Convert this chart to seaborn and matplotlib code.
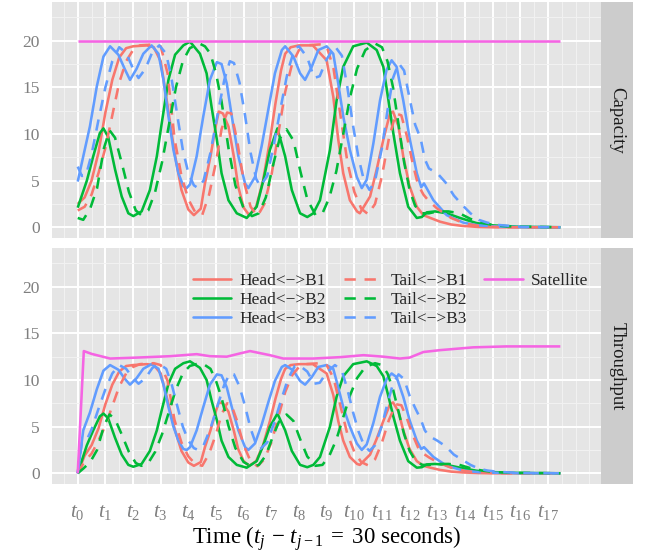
import numpy as np
import pandas as pd
import matplotlib
matplotlib.use("Agg")
import matplotlib.pyplot as plt
import seaborn as sns
from matplotlib.lines import Line2D

sns.set_theme(style="white")
plt.rcParams['font.family'] = ['Liberation Serif', 'DejaVu Serif']
plt.rcParams['mathtext.fontset'] = 'custom'
plt.rcParams['mathtext.rm'] = 'Liberation Serif'
plt.rcParams['mathtext.it'] = 'Liberation Serif:italic'
plt.rcParams['mathtext.bf'] = 'Liberation Serif:bold'

# ---------------- data (x in units of t_j, 30 s each) ----------------
series_names = ["Head<\u2212>B1", "Head<\u2212>B2", "Head<\u2212>B3",
                "Tail<\u2212>B1", "Tail<\u2212>B2", "Tail<\u2212>B3", "Satellite"]
panels = ["Capacity", "Throughput"]
tick_labels = [f"$t_{{{i}}}$" for i in range(18)]
y_ticks = [0, 5, 10, 15, 20]

hb1_t = [0, .25, .5, .75, 1, 1.25, 1.5, 1.75, 2, 2.5, 2.75, 3, 3.25, 3.5, 3.75, 4, 4.2, 4.45, 4.6, 4.8,
         5, 5.1, 5.25, 5.45, 5.65, 5.8, 6, 6.2, 6.45, 6.7, 6.95, 7.15, 7.35, 7.5, 7.7, 8, 8.5, 9.0, 9.24, 9.42,
         9.6, 9.84, 10.1, 10.2, 10.57, 10.81, 11.05, 11.29, 11.4, 11.6, 11.77, 12.0, 12.26, 12.5, 12.75,
         13.1, 13.5, 13.9, 14.5, 15.0, 17.45]
hb1_cap = [2.5, 3.2, 5.0, 8.0, 12.3, 15.8, 18.2, 19.2, 19.4, 19.5, 19.3, 17.8, 13.0, 8.0, 4.0, 1.9, 1.3, 2.0, 4.7, 7.6,
           11.0, 12.4, 12.2, 10.8, 7.5, 4.4, 2.1, 1.3, 2.2, 5.0, 9.3, 13.3, 16.8, 18.6, 19.3, 19.5, 19.5, 17.9, 14.0, 9.4,
           5.8, 2.9, 1.7, 1.5, 3.3, 6.2, 9.4, 12.2, 12.4, 10.8, 7.6, 4.4, 2.2, 1.3, 1.0,
           0.6, 0.3, 0.15, 0.03, 0.0, 0.0]
hb1_thr = [0, 1.9, 3.0, 4.8, 7.4, 9.5, 10.9, 11.5, 11.6, 11.7, 11.6, 10.7, 7.8, 4.8, 2.4, 1.15, 0.8, 1.2, 2.8, 4.6,
           6.7, 7.6, 7.5, 6.6, 4.5, 2.6, 1.3, 0.8, 1.3, 3.0, 5.6, 8.0, 10.1, 11.2, 11.6, 11.7, 11.7, 10.7, 8.4, 5.6,
           3.5, 1.75, 1.0, 0.9, 2.0, 3.7, 5.6, 7.4, 7.6, 6.6, 4.6, 2.6, 1.3, 0.8, 0.6,
           0.36, 0.18, 0.09, 0.02, 0.0, 0.0]

tb1_t = [0, .25, .5, .75, 1.0, 1.25, 1.5, 1.75, 2.0, 2.25, 2.75, 3.0, 3.25, 3.5, 3.75, 4.0, 4.25, 4.5, 4.75, 5.0,
         5.2, 5.4, 5.55, 5.75, 6.0, 6.25, 6.5, 6.75, 7.0, 7.25, 7.5, 7.75, 8.0, 8.25, 8.75, 9.0, 9.25, 9.5, 9.75, 10.0,
         10.25, 10.5, 10.75, 11.0, 11.25, 11.5, 11.7, 11.9, 12.1, 12.3, 12.5, 12.7, 13.0, 13.5, 14.0,
         14.5, 15.0, 15.5, 17.45]
tb1_cap = [1.8, 2.2, 3.5, 5.8, 8.5, 12.0, 15.5, 17.8, 19.0, 19.5, 19.6, 19.4, 16.5, 9.5, 5.5, 3.0, 1.6, 1.3, 3.5, 7.0,
           10.5, 12.3, 12.2, 9.5, 5.0, 2.2, 1.2, 2.5, 5.5, 10.0, 14.5, 17.5, 19.0, 19.5, 19.6, 19.4, 17.0, 12.0, 7.0, 3.8,
           2.0, 1.4, 2.5, 5.5, 9.5, 12.2, 12.0, 9.8, 7.0, 4.6, 3.5, 2.8, 2.0, 1.0, 0.4,
           0.15, 0.05, 0.0, 0.0]
tb1_thr = [0, 1.3, 2.1, 3.5, 5.1, 7.2, 9.3, 10.7, 11.4, 11.7, 11.8, 11.6, 9.9, 5.7, 3.3, 1.8, 1.0, 0.8, 2.1, 4.2,
           6.3, 7.5, 7.4, 5.7, 3.0, 1.3, 0.75, 1.5, 3.3, 6.0, 8.7, 10.5, 11.4, 11.7, 11.8, 11.6, 10.2, 7.2, 4.2, 2.3,
           1.2, 0.85, 1.5, 3.3, 5.7, 7.4, 7.3, 5.9, 4.2, 2.8, 2.1, 1.7, 1.2, 0.6, 0.24,
           0.09, 0.03, 0.0, 0.0]

hb2_t = [0, 0.33, 0.56, 0.8, 0.93, 1.1, 1.35, 1.59, 1.83, 2.01, 2.31, 2.61, 2.86, 3.04, 3.28, 3.52, 3.82, 4.06, 4.42, 4.66,
         4.84, 5.03, 5.2, 5.45, 5.75, 6.11, 6.47, 6.71, 6.95, 7.22, 7.5, 7.74, 8.04, 8.3, 8.52, 8.76, 9.12, 9.36, 9.6, 9.96,
         10.45, 10.81, 11.05, 11.23, 11.41, 11.65, 11.95, 12.26, 12.44, 12.62, 12.92, 13.34, 13.82, 14.42, 15.03,
         16.0, 17.45]
hb2_cap = [2.1, 5.0, 7.6, 10.1, 10.6, 9.7, 6.2, 3.3, 1.5, 1.2, 1.7, 4.0, 7.6, 11.2, 15.8, 18.5, 19.5, 19.9, 18.6, 16.5,
           12.9, 9.4, 5.8, 2.9, 1.5, 1.0, 2.2, 5.0, 8.3, 10.6, 7.6, 4.0, 1.5, 1.1, 1.5, 2.9, 8.3, 13.6, 17.2, 19.4,
           19.8, 19.0, 17.2, 13.7, 10.1, 5.8, 2.2, 1.0, 1.1, 1.6, 1.7, 1.5, 1.0, 0.45, 0.2,
           0.05, 0.0]
hb2_thr = [0, 3.0, 4.6, 6.1, 6.4, 5.9, 3.8, 2.0, 0.9, 0.7, 1.0, 2.4, 4.6, 6.8, 9.6, 11.2, 11.8, 12.0, 11.3, 10.0,
           7.8, 5.7, 3.5, 1.75, 0.9, 0.6, 1.3, 3.0, 5.0, 6.4, 4.6, 2.4, 0.9, 0.65, 0.9, 1.75, 5.0, 8.2, 10.4, 11.7,
           12.0, 11.5, 10.4, 8.3, 6.1, 3.5, 1.3, 0.6, 0.65, 0.95, 1.0, 0.9, 0.6, 0.27, 0.12,
           0.03, 0.0]

tb2_t = [0, .2, .45, .7, .95, 1.15, 1.35, 1.6, 1.85, 2.1, 2.3, 2.55, 2.8, 3.05, 3.3, 3.55, 3.8, 4.05, 4.4, 4.6,
         4.8, 5.0, 5.2, 5.45, 5.7, 6.0, 6.3, 6.55, 6.8, 7.05, 7.3, 7.55, 7.8, 8.05, 8.3, 8.6, 8.85, 9.1, 9.35, 9.6,
         9.85, 10.1, 10.4, 10.75, 11.0, 11.2, 11.4, 11.6, 11.8, 12.0, 12.2, 12.45, 12.7, 13.0, 13.4,
         13.8, 14.2, 14.6, 15.0, 15.5, 17.45]
tb2_cap = [1.0, 0.8, 2.0, 4.2, 8.5, 10.4, 9.6, 6.8, 3.8, 1.8, 1.3, 1.8, 3.8, 7.0, 11.0, 15.0, 17.8, 19.2, 19.7, 19.4,
           18.6, 16.5, 13.5, 8.5, 4.5, 2.0, 1.2, 1.5, 3.2, 6.5, 9.5, 10.5, 9.3, 6.0, 3.0, 1.3, 1.5, 3.2, 6.0, 10.0,
           14.0, 17.0, 19.0, 19.7, 19.3, 17.8, 15.0, 11.0, 7.0, 4.0, 2.3, 1.5, 1.5, 1.7, 1.7,
           1.5, 0.9, 0.5, 0.25, 0.1, 0.0]
tb2_thr = [0, 0.5, 1.2, 2.5, 5.1, 6.3, 5.8, 4.1, 2.3, 1.1, 0.8, 1.1, 2.3, 4.2, 6.6, 9.0, 10.7, 11.5, 11.8, 11.6,
           11.2, 9.9, 8.1, 5.1, 2.7, 1.2, 0.7, 0.9, 1.9, 3.9, 5.7, 6.3, 5.6, 3.6, 1.8, 0.8, 0.9, 1.9, 3.6, 6.0,
           8.4, 10.2, 11.4, 11.8, 11.6, 10.7, 9.0, 6.6, 4.2, 2.4, 1.4, 0.9, 0.9, 1.0, 1.0,
           0.9, 0.55, 0.3, 0.15, 0.06, 0.0]

hb3_t = [0, 0.2, 0.44, 0.69, 0.93, 1.17, 1.47, 1.71, 1.89, 2.13, 2.37, 2.67, 2.92, 3.1, 3.28, 3.46, 3.64, 3.82, 3.94, 4.06,
         4.3, 4.54, 4.78, 5.03, 5.2, 5.39, 5.57, 5.81, 6.05, 6.17, 6.41, 6.65, 6.89, 7.13, 7.38, 7.5, 7.8, 8.04, 8.22, 8.46,
         8.7, 9.0, 9.24, 9.42, 9.6, 9.84, 10.09, 10.27, 10.45, 10.69, 10.93, 11.17, 11.35, 11.53, 11.77,
         12.01, 12.26, 12.42, 12.52, 12.86, 13.34, 13.94, 14.5, 15.2, 16.0, 17.45]
hb3_cap = [4.9, 7.6, 10.8, 15.1, 18.3, 19.4, 18.5, 16.9, 15.8, 17.0, 18.6, 19.5, 18.6, 15.8, 11.9, 8.3, 5.8, 4.4, 4.2, 4.6,
           7.6, 11.9, 15.8, 17.7, 17.5, 15.4, 11.9, 7.6, 4.7, 4.2, 5.4, 8.7, 12.6, 16.5, 19.0, 19.4, 18.3, 16.5, 15.8, 17.2,
           19.0, 19.4, 18.6, 15.4, 11.9, 8.3, 5.4, 4.2, 5.1, 9.0, 13.6, 16.9, 17.9, 17.2, 13.6,
           9.4, 5.8, 4.3, 4.7, 2.9, 1.3, 0.5, 0.2, 0.08, 0.02, 0.0]
hb3_thr = [0, 4.6, 6.5, 9.0, 11.0, 11.6, 11.1, 10.1, 9.5, 10.2, 11.2, 11.7, 11.2, 9.5, 7.1, 5.0, 3.5, 2.6, 2.5, 2.8,
           4.6, 7.1, 9.5, 10.6, 10.5, 9.2, 7.1, 4.6, 2.8, 2.5, 3.2, 5.2, 7.6, 9.9, 11.4, 11.6, 11.0, 9.9, 9.5, 10.3,
           11.4, 11.6, 11.2, 9.2, 7.1, 5.0, 3.2, 2.5, 3.1, 5.4, 8.2, 10.1, 10.7, 10.3, 8.2,
           5.6, 3.5, 2.6, 2.8, 1.75, 0.8, 0.3, 0.12, 0.05, 0.01, 0.0]

tb3_t = [0, .15, .3, .5, .75, 1.0, 1.25, 1.5, 1.75, 2.0, 2.2, 2.45, 2.7, 2.95, 3.2, 3.4, 3.6, 3.8, 4.0, 4.2,
         4.35, 4.55, 4.8, 5.05, 5.3, 5.5, 5.65, 5.85, 6.05, 6.25, 6.45, 6.6, 6.85, 7.1, 7.35, 7.6, 7.85, 8.0, 8.3, 8.55,
         8.75, 9.0, 9.3, 9.55, 9.75, 9.95, 10.15, 10.35, 10.55, 10.75, 11.0, 11.2, 11.4, 11.6, 11.8,
         12.0, 12.2, 12.4, 12.55, 12.7, 13.0, 13.3, 13.6, 13.9, 14.2, 14.5, 14.8, 15.2, 16.0, 17.45]
tb3_cap = [6.5, 5.5, 5.6, 7.8, 11.5, 15.0, 17.8, 19.3, 18.7, 17.0, 16.0, 17.0, 18.8, 19.5, 18.6, 15.8, 12.0, 8.3, 5.8, 4.5,
           4.2, 5.0, 8.0, 12.0, 15.8, 17.8, 17.6, 15.5, 12.0, 8.0, 5.2, 4.4, 5.5, 9.0, 13.0, 16.8, 19.2, 19.4, 18.2, 16.0,
           16.2, 18.0, 19.4, 18.4, 15.0, 11.0, 7.5, 5.0, 4.0, 5.0, 8.5, 12.5, 16.0, 17.6, 16.8,
           13.8, 11.0, 9.5, 7.3, 6.3, 5.8, 4.8, 3.4, 2.4, 1.5, 0.8, 0.5, 0.25, 0.05, 0.0]
tb3_thr = [0, 3.3, 3.4, 4.7, 6.9, 9.0, 10.7, 11.6, 11.2, 10.2, 9.6, 10.2, 11.3, 11.7, 11.2, 9.5, 7.2, 5.0, 3.5, 2.7,
           2.5, 3.0, 4.8, 7.2, 9.5, 10.7, 10.6, 9.3, 7.2, 4.8, 3.1, 2.6, 3.3, 5.4, 7.8, 10.1, 11.5, 11.6, 10.9, 9.6,
           9.7, 10.8, 11.6, 11.0, 9.0, 6.6, 4.5, 3.0, 2.4, 3.0, 5.1, 7.5, 9.6, 10.6, 10.1,
           8.3, 7.0, 5.8, 4.6, 4.0, 3.5, 2.9, 2.0, 1.45, 0.9, 0.5, 0.3, 0.15, 0.03, 0.0]

sat_cap_t = [0, 17.45]
sat_cap = [20, 20]
sat_thr_t = [0, 0.22, 0.5, 1.17, 2.13, 3.34, 4.3, 4.78, 5.39, 5.87, 6.23, 6.95, 7.43, 8.52, 9.5, 10.33, 11.05,
             11.65, 12.0, 12.5, 13.1, 14.3, 15.5, 17.45]
sat_thr = [0, 13.1, 12.8, 12.3, 12.4, 12.55, 12.77, 12.55, 12.5, 12.85, 13.1, 12.66, 12.3, 12.3, 12.45, 12.66, 12.5,
           12.3, 12.4, 13.0, 13.2, 13.5, 13.6, 13.6]

# ---------------- long table ----------------
src = {
    ("Capacity", series_names[0]): (hb1_t, hb1_cap), ("Throughput", series_names[0]): (hb1_t, hb1_thr),
    ("Capacity", series_names[1]): (hb2_t, hb2_cap), ("Throughput", series_names[1]): (hb2_t, hb2_thr),
    ("Capacity", series_names[2]): (hb3_t, hb3_cap), ("Throughput", series_names[2]): (hb3_t, hb3_thr),
    ("Capacity", series_names[3]): (tb1_t, tb1_cap), ("Throughput", series_names[3]): (tb1_t, tb1_thr),
    ("Capacity", series_names[4]): (tb2_t, tb2_cap), ("Throughput", series_names[4]): (tb2_t, tb2_thr),
    ("Capacity", series_names[5]): (tb3_t, tb3_cap), ("Throughput", series_names[5]): (tb3_t, tb3_thr),
    ("Capacity", series_names[6]): (sat_cap_t, sat_cap), ("Throughput", series_names[6]): (sat_thr_t, sat_thr),
}
rows = []
for (panel, name), (tt, vv) in src.items():
    for a, b in zip(tt, vv):
        rows.append((panel, name, a, b))
df = pd.DataFrame(rows, columns=["panel", "series", "t", "value"])

palette = {series_names[0]: "#F8766D", series_names[3]: "#F8766D",
           series_names[1]: "#00BA38", series_names[4]: "#00BA38",
           series_names[2]: "#619CFF", series_names[5]: "#619CFF",
           series_names[6]: "#F564E3"}
dash = (4.4, 3.4)
dashes = {series_names[0]: "", series_names[1]: "", series_names[2]: "",
          series_names[3]: dash, series_names[4]: dash, series_names[5]: dash,
          series_names[6]: ""}
LW = 1.85

# ---------------- figure ----------------
W, H = 649, 555
fig = plt.figure(figsize=(W / 100, H / 100), dpi=100)
fig.patch.set_facecolor("white")

px_left, px_right = 52, 601
panel_px = [(2, 238), (248, 484)]
strip_w = 32

axes = []
for (top, bot), panel in zip(panel_px, panels):
    ax = fig.add_axes([px_left / W, 1 - bot / H, (px_right - px_left) / W, (bot - top) / H])
    ax.set_facecolor("#E5E5E5")
    sub = df[df.panel == panel]
    sns.lineplot(data=sub, x="t", y="value", hue="series", style="series",
                 hue_order=series_names, style_order=series_names,
                 palette=palette, dashes=dashes, linewidth=LW, ax=ax,
                 legend=False, sort=False, estimator=None)
    for ln in ax.get_lines():
        ln.set_solid_capstyle("butt")
        ln.set_dash_capstyle("butt")
        ln.set_solid_joinstyle("round")
    ax.set_xlim(-0.93, 18.92)
    ax.set_ylim(-1.15, 24.15)
    ax.set_xticks(range(18))
    ax.set_xticks([-0.5 + i for i in range(18)] + [17.5, 18.0, 18.5], minor=True)
    ax.set_yticks(y_ticks)
    ax.set_yticks([2.5, 7.5, 12.5, 17.5, 22.5], minor=True)
    ax.set_yticklabels([str(v) for v in y_ticks])
    ax.grid(which="major", color="white", linewidth=1.4)
    ax.grid(which="minor", color="#F2F2F2", linewidth=0.7)
    ax.set_axisbelow(True)
    for s in ax.spines.values():
        s.set_visible(False)
    ax.tick_params(which="major", length=6.5, width=1.5, color="#7F7F7F",
                   labelcolor="#7F7F7F", labelsize=12.5, pad=2.5)
    ax.tick_params(which="minor", length=0)
    ax.set_xlabel("")
    ax.set_ylabel("")
    # strip
    sax = fig.add_axes([px_right / W, 1 - bot / H, strip_w / W, (bot - top) / H])
    sax.set_facecolor("#CCCCCC")
    sax.set_xticks([]); sax.set_yticks([])
    for s in sax.spines.values():
        s.set_visible(False)
    sax.text(0.5, 0.5, panel, rotation=-90, ha="center", va="center",
             fontsize=13.5, color="#1A1A1A", transform=sax.transAxes)
    axes.append(ax)

axes[0].tick_params(axis="x", which="major", length=0, labelbottom=False)
axes[1].set_xticklabels(tick_labels, fontsize=15)
axes[1].tick_params(axis="x", which="major", pad=7)

fig.text((px_left + px_right) / 2 / W, 1 - 539 / H,
         r"Time ($t_j\,-\,t_{j-1}\;=\;30$ seconds)", ha="center", va="center",
         fontsize=16.5, color="black")

# legend (column-major, padded so the third column holds only Satellite)
handles = [Line2D([0], [0], color=palette[n], lw=LW,
                  linestyle="-" if dashes[n] == "" else (0, dash)) for n in series_names]
blank = Line2D([0], [0], color="none", lw=0)
leg_handles = handles + [blank, blank]
leg_labels = series_names + ["", ""]
leg = axes[1].legend(leg_handles, leg_labels, ncol=3, loc="upper left",
                     bbox_to_anchor=((193 - px_left) / (px_right - px_left), (484 - 273) / 236),
                     frameon=False, fontsize=12.5, handlelength=2.2, handletextpad=0.5,
                     columnspacing=1.0, labelspacing=0.15, borderpad=0, borderaxespad=0)

fig.savefig("out.png", dpi=100, facecolor="white")
